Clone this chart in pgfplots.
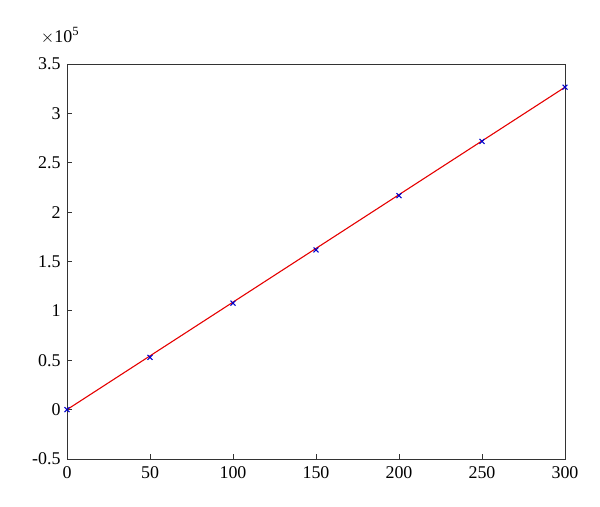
\documentclass[border=0pt]{standalone}
\usepackage{pgfplots}
\pgfplotsset{compat=1.18}
\usepackage{fontspec}
\setmainfont{Liberation Serif}
\begin{document}
\begin{tikzpicture}
\begin{axis}[
  scale only axis,
  width=498bp, height=395bp,
  xmin=0, xmax=300, ymin=-50000, ymax=350000,
  xtick={0,50,...,300},
  ytick={-50000,0,50000,100000,150000,200000,250000,300000,350000},
  scaled y ticks=base 10:-5,
  ytick scale label code/.code={},
  tick pos=left,
  tick align=inside,
  major tick length=5bp,
  axis line style={black!80, line width=1pt},
  tick style={black!80, line width=0.9pt},
  /pgf/number format/assume math mode=true,
  ticklabel style={font=\fontsize{18}{21}\selectfont},
  xticklabel style={yshift=-4bp},
  yticklabel style={xshift=-3bp},
  clip=false,
]
\addplot[red!90!black, line width=1.1pt, mark=none] coordinates {
  (0,0) (300,326500)
};
\addplot[only marks, blue!80!black, mark=x, mark size=3.5pt, line width=1.1pt] coordinates {
  (0,0) (50,52900) (100,107800) (150,161700) (200,216700) (250,271600) (300,326500)
};
\node[anchor=south, font=\fontsize{18}{21}\selectfont] at ([xshift=-7bp,yshift=17bp]rel axis cs:0,1) {$\times$10\textsuperscript{5}};
\end{axis}
\path (-67bp,-48bp) rectangle (533bp,459bp);
\end{tikzpicture}
\end{document}
